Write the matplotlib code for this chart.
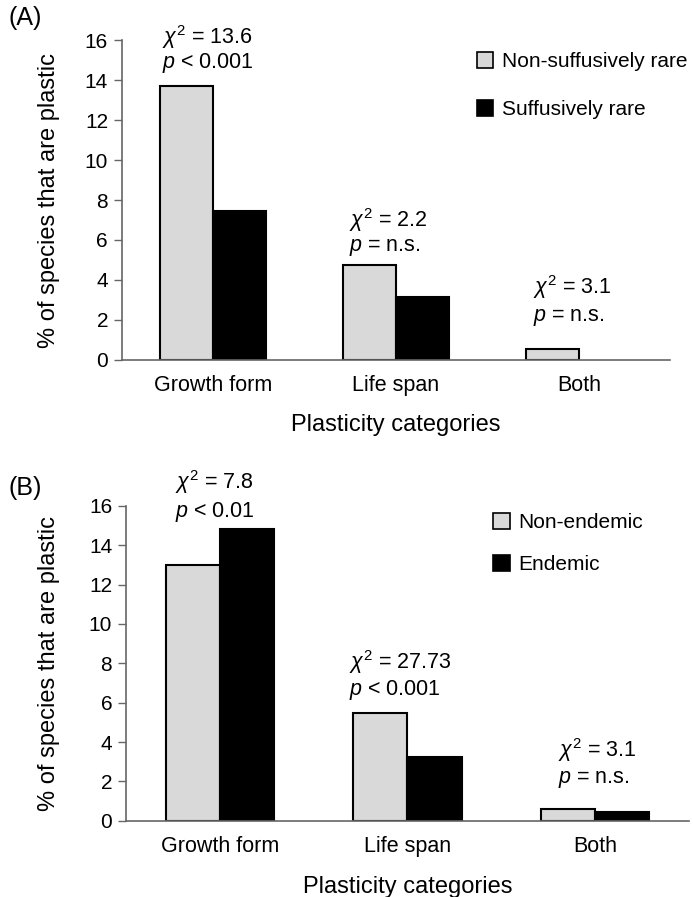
import matplotlib.pyplot as plt
import numpy as np
from matplotlib.patches import Patch

plt.rcParams['font.family'] = ['Liberation Sans', 'DejaVu Sans']
plt.rcParams['mathtext.fontset'] = 'custom'
plt.rcParams['mathtext.rm'] = 'Liberation Sans'
plt.rcParams['mathtext.it'] = 'Liberation Sans:italic'

categories = ["Growth form", "Life span", "Both"]

# Panel A: rarity
labels_a = ["Non-suffusively rare", "Suffusively rare"]
non_rare = [13.7, 4.75, 0.55]
rare = [7.45, 3.15, 0.0]
chi_a = ["13.6", "2.2", "3.1"]
p_a = ["< 0.001", "= n.s.", "= n.s."]

# Panel B: endemism
labels_b = ["Non-endemic", "Endemic"]
non_endemic = [13.0, 5.47, 0.61]
endemic = [14.82, 3.26, 0.42]
chi_b = ["7.8", "27.73", "3.1"]
p_b = ["< 0.01", "< 0.001", "= n.s."]

light = "#d9d9d9"
dark = "#000000"
fs = 15.5


def draw_panel(ax, s1, s2, labels, chi, pvals, txt_pos, leg_anchor, leg_space,
               ylpad, xlpad):
    x = np.arange(len(categories))
    w = 0.29
    # no outline on empty bars
    lw1 = [1.5 if v > 0 else 0 for v in s1]
    lw2 = [1.5 if v > 0 else 0 for v in s2]
    ax.bar(x - w / 2, s1, w, color=light, edgecolor="black", linewidth=lw1)
    ax.bar(x + w / 2, s2, w, color=dark, edgecolor="black", linewidth=lw2)
    ax.set_xlim(-0.5, 2.5)
    ax.set_ylim(0, 16)
    ax.set_yticks(range(0, 17, 2))
    ax.set_xticks(x)
    ax.set_xticklabels(categories, fontsize=fs)
    ax.tick_params(axis="x", length=0, pad=11)
    ax.tick_params(axis="y", labelsize=15, length=6, width=1, color="#666666", pad=4)
    for s in ["top", "right"]:
        ax.spines[s].set_visible(False)
    for s in ["left", "bottom"]:
        ax.spines[s].set_color("#666666")
        ax.spines[s].set_linewidth(1.2)
    ax.set_ylabel("% of species that are plastic", fontsize=17, labelpad=ylpad)
    ax.set_xlabel("Plasticity categories", fontsize=17, labelpad=xlpad)
    for i, (c, p) in enumerate(zip(chi, pvals)):
        dx, y1, y2 = txt_pos[i]
        ax.text(i + dx, y1, r"$\chi^2$ = " + c, fontsize=fs, va="center",
                ha="left", clip_on=False)
        ax.text(i + dx, y2, r"$p$ " + p, fontsize=fs, va="center",
                ha="left", clip_on=False)
    handles = [Patch(facecolor=light, edgecolor="black", linewidth=1.2),
               Patch(facecolor=dark, edgecolor="black", linewidth=1.2)]
    ax.legend(handles, labels, loc="upper left", bbox_to_anchor=leg_anchor,
              frameon=False, fontsize=15, handlelength=0.8, handleheight=0.8,
              handletextpad=0.4, labelspacing=leg_space, borderaxespad=0)


fig = plt.figure(figsize=(6.93, 8.97), dpi=100)
ax_a = fig.add_axes([0.176, 0.599, 0.791, 0.356])
ax_b = fig.add_axes([0.182, 0.085, 0.812, 0.351])

draw_panel(ax_a, non_rare, rare, labels_a, chi_a, p_a,
           [(-0.28, 16.15, 14.85), (-0.26, 7.0, 5.6), (-0.25, 3.65, 2.1)],
           (0.632, 0.99), 1.4, 18, 13)
draw_panel(ax_b, non_endemic, endemic, labels_b, chi_b, p_b,
           [(-0.24, 17.2, 15.7), (-0.31, 8.09, 6.65), (-0.20, 3.6, 2.08)],
           (0.638, 1.005), 1.1, 21, 14)

fig.text(0.012, 0.98, "(A)", fontsize=18, va="center", ha="left")
fig.text(0.012, 0.456, "(B)", fontsize=18, va="center", ha="left")

fig.savefig("out.png", dpi=100)
